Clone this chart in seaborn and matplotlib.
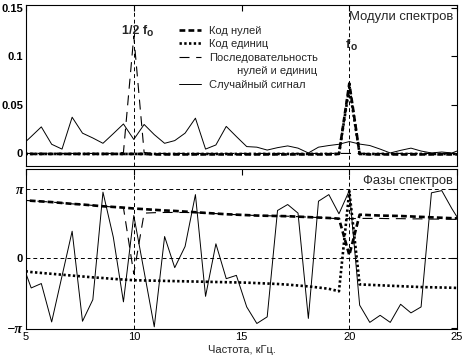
import numpy as np
import pandas as pd
import seaborn as sns
import matplotlib.pyplot as plt
from matplotlib.lines import Line2D

# частоты отсчётов спектра, кГц
freq = [4.76, 5.24, 5.71, 6.19, 6.67, 7.14, 7.62, 8.10, 8.57, 9.05, 9.52,
        10.00, 10.48, 10.95, 11.43, 11.90, 12.38, 12.86, 13.33, 13.81, 14.29,
        14.76, 15.24, 15.71, 16.19, 16.67, 17.14, 17.62, 18.10, 18.57, 19.05,
        19.52, 20.00, 20.48, 20.95, 21.43, 21.90, 22.38, 22.86, 23.33, 23.81,
        24.29, 24.76, 25.24]

# модули спектров
mod_zeros = [-0.001, -0.001, -0.001, -0.001, -0.001, -0.001, -0.001, -0.001,
             -0.001, -0.001, -0.001, -0.001, -0.001, -0.0015, -0.0015, -0.0015,
             -0.0015, -0.0015, -0.0015, -0.0015, -0.0015, -0.0015, -0.0015,
             -0.0015, -0.0015, -0.0015, -0.0015, -0.0015, -0.0015, -0.0015,
             -0.0015, -0.001, 0.072, -0.001, -0.0015, -0.0015, -0.0015, -0.0015,
             -0.0015, -0.0015, -0.0015, -0.0015, -0.0015, -0.0015]
mod_ones = [-0.001, -0.001, -0.001, -0.001, -0.001, -0.001, -0.001, -0.001,
            -0.001, -0.001, -0.001, -0.001, -0.001, -0.001, -0.001, -0.001,
            -0.001, -0.001, -0.001, -0.001, -0.001, -0.001, -0.001, -0.001,
            -0.001, -0.001, -0.001, -0.001, -0.001, -0.001, -0.001, -0.001,
            0.068, -0.001, -0.001, -0.001, -0.001, -0.001, -0.001, -0.001,
            -0.001, -0.001, -0.001, -0.001]
mod_seq = [-0.0005, -0.0005, -0.0005, -0.0005, -0.0005, -0.0005, -0.0005,
           -0.0005, -0.0005, -0.0005, 0.0005, 0.121, 0.0005, -0.0005, -0.0005,
           -0.0005, -0.0005, -0.0005, -0.0005, -0.0005, -0.0005, -0.0005,
           -0.0005, -0.0005, -0.0005, -0.0005, -0.0005, -0.0005, -0.0005,
           -0.0005, -0.0005, -0.0005, -0.0005, -0.0005, -0.0005, -0.0005,
           -0.0005, -0.0005, -0.0005, -0.0005, -0.0005, -0.0005, -0.0005,
           -0.0005]
mod_rand = [0.007, 0.017, 0.027, 0.009, 0.004, 0.037, 0.0205, 0.0155, 0.010,
            0.020, 0.030, 0.014, 0.0295, 0.019, 0.010, 0.0128, 0.0205, 0.036,
            0.004, 0.0083, 0.0275, 0.017, 0.0066, 0.006, 0.003, 0.0055, 0.0073,
            0.005, 0.0, 0.006, 0.0077, 0.009, 0.0118, 0.0092, 0.0077, 0.004,
            0.0, 0.0027, 0.005, 0.002, 0.0, 0.001, 0.0, 0.004]

# фазы спектров, рад
ph_zeros = [2.64, 2.61, 2.58, 2.55, 2.51, 2.47, 2.44, 2.40, 2.36, 2.33, 2.30,
            2.26, 2.23, 2.20, 2.17, 2.15, 2.12, 2.09, 2.06, 2.03, 2.00, 1.98,
            1.96, 1.94, 1.93, 1.92, 1.91, 1.89, 1.87, 1.85, 1.83, 1.80, 0.15,
            1.98, 1.96, 1.94, 1.93, 1.92, 1.90, 1.88, 1.86, 1.84, 1.82, 1.80]
ph_ones = [-0.55, -0.62, -0.66, -0.70, -0.74, -0.78, -0.82, -0.86, -0.89,
           -0.93, -0.96, -0.99, -1.00, -1.01, -1.02, -1.03, -1.04, -1.05,
           -1.06, -1.07, -1.08, -1.09, -1.10, -1.12, -1.14, -1.16, -1.19,
           -1.23, -1.27, -1.32, -1.38, -1.49, 3.05, -1.18, -1.20, -1.22,
           -1.24, -1.26, -1.28, -1.30, -1.31, -1.32, -1.33, -1.35]
ph_seq = [2.64, 2.61, 2.58, 2.55, 2.51, 2.47, 2.44, 2.40, 2.36, 2.33, 2.30,
          -0.70, 2.05, 2.07, 2.08, 2.08, 2.08, 2.07, 2.05, 2.03, 2.00, 1.98,
          1.96, 1.94, 1.93, 1.92, 1.91, 1.89, 1.87, 1.85, 1.82, 1.80, 1.80,
          1.81, 1.81, 1.81, 1.80, 1.80, 1.79, 1.79, 1.78, 1.78, 1.77, 1.76]
ph_rand = [-0.05, -1.34, -1.14, -2.88, -0.8, 1.23, -2.85, -1.87, 3.0, 0.96,
           -1.97, 1.94, -0.6, -3.1, 0.99, -0.42, 0.54, 2.89, -1.72, 0.66,
           -0.92, -0.77, -2.2, -2.95, -2.65, 2.17, 2.44, 2.05, -2.72, 2.59,
           2.89, 2.02, 3.07, -2.12, -2.9, -2.58, -2.9, -2.08, -2.47, -2.2,
           2.97, 3.07, 2.25, 1.5]

labels = ["Код нулей", "Код единиц", "Последовательность", "Случайный сигнал"]
label_cont = "         нулей и единиц"

sns.set_style("white")
plt.rcParams['font.family'] = ['Liberation Sans', 'DejaVu Sans']
plt.rcParams['font.size'] = 8
plt.rcParams['axes.edgecolor'] = 'black'
plt.rcParams['axes.linewidth'] = 0.8

fig = plt.figure(figsize=(4.63, 3.6), dpi=100)
ax1 = fig.add_axes([0.0562, 0.539, 0.931, 0.447])
ax2 = fig.add_axes([0.0562, 0.0861, 0.931, 0.4445])

st_zeros = dict(color='black', lw=1.9, linestyle=(0, (2.2, 1.2)))
st_ones = dict(color='black', lw=1.9, linestyle=(0, (0.9, 0.9)))
st_seq = dict(color='black', lw=0.8, linestyle=(0, (9, 6)))
st_rand = dict(color='black', lw=0.7, linestyle='-')
grid_st = dict(color='black', lw=0.7, linestyle=(0, (4, 3)))

for ax, series in [(ax1, [mod_rand, mod_seq, mod_zeros, mod_ones]),
                   (ax2, [ph_rand, ph_seq, ph_zeros, ph_ones])]:
    sns.lineplot(x=freq, y=series[0], ax=ax, label=labels[3], **st_rand)
    sns.lineplot(x=freq, y=series[1], ax=ax, label=labels[2], **st_seq)
    sns.lineplot(x=freq, y=series[2], ax=ax, label=labels[0], **st_zeros)
    sns.lineplot(x=freq, y=series[3], ax=ax, label=labels[1], **st_ones)
    ax.axvline(10, **grid_st)
    ax.axvline(20, **grid_st)
    ax.set_xlim(5, 25)
    ax.set_xticks([5, 10, 15, 20, 25])
    ax.tick_params(direction='in', length=4, width=0.8, top=True, right=True,
                   colors='black', pad=2)

# верхний график — модули
ax1.set_ylim(-0.01345, 0.1531)
ax1.set_yticks([0, 0.05, 0.1, 0.15])
ax1.set_yticklabels(["0", "0.05", "0.1", "0.15"], fontweight='bold')
ax1.set_xticklabels([])
ax1.text(0.99, 0.965, "Модули спектров", transform=ax1.transAxes,
         ha='right', va='top', fontsize=9.4)

# подписи 1/2 f0 и f0
for fx, fy, txt, dx in [(10, 0.123, "1/2 f", 9.5), (20, 0.1086, "f", 0.8)]:
    ax1.annotate(txt, xy=(fx, fy), xytext=(dx, 0), textcoords='offset points',
                 ha='right', va='baseline', fontweight='bold', fontsize=9)
    ax1.annotate("o", xy=(fx, fy), xytext=(dx, -1.2), textcoords='offset points',
                 ha='left', va='baseline', fontweight='bold', fontsize=7.5)

h, l = ax1.get_legend_handles_labels()
order = [2, 3, 1]
handles = [h[i] for i in order] + [Line2D([], [], color='none'), h[0]]
texts = [l[i] for i in order] + [label_cont, l[0]]
leg = ax1.legend(handles, texts, loc='upper left',
                 bbox_to_anchor=(0.345, 0.9), frameon=False, fontsize=8,
                 handlelength=2.0, handletextpad=0.72, labelspacing=0.32,
                 borderaxespad=0)

# нижний график — фазы
ax2.legend_.remove()
ax2.set_ylim(-3.20, 4.05)
ax2.set_yticks([-np.pi, 0, np.pi])
ax2.set_yticklabels(["\u2212\u03c0", "0", "\u03c0"])
for lab in ax2.get_yticklabels():
    if "\u03c0" in lab.get_text():
        lab.set_family('Liberation Serif')
        lab.set_fontstyle('italic')
        lab.set_fontsize(10)
    lab.set_fontweight('bold')
ax2.axhline(np.pi, **grid_st)
ax2.axhline(0, **grid_st)
ax2.set_xlabel("Частота, кГц.", fontsize=8, labelpad=2)
ax2.text(0.99, 0.965, "Фазы спектров", transform=ax2.transAxes,
         ha='right', va='top', fontsize=9.4)

fig.savefig("out.png", dpi=100)
